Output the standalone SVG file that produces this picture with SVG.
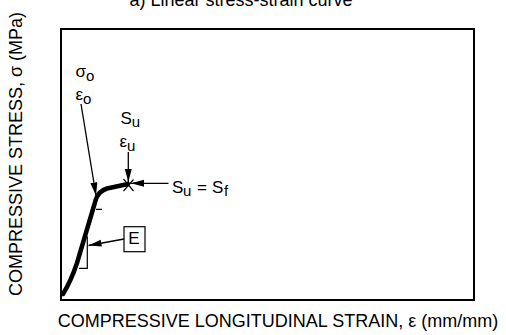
<svg xmlns="http://www.w3.org/2000/svg" width="506" height="335" viewBox="0 0 506 335">
<style>
text{font-family:"Liberation Sans",Arial,sans-serif;fill:#000}
.big{font-size:18px}
.lbl{font-size:17px}
.sub{font-size:15px}
.thin{stroke:#000;stroke-width:1.2;fill:none}
.arr{stroke:#000;stroke-width:1.3;fill:none;marker-end:url(#ah)}
</style>
<defs>
<marker id="ah" markerUnits="userSpaceOnUse" markerWidth="14" markerHeight="8" refX="13" refY="3.5" orient="auto">
<path d="M0,0 L13,3.5 L0,7 z" fill="#000"/>
</marker>
</defs>
<rect width="506" height="335" fill="#fff"/>
<g id="title"><text class="big" x="241" y="5.5" text-anchor="middle">a) Linear stress-strain curve</text></g>
<g id="frame"><rect x="61" y="29" width="413" height="271" fill="none" stroke="#000" stroke-width="2"/></g>
<g id="y-axis-label"><text class="big" transform="translate(21.5,154) rotate(-90)" text-anchor="middle">COMPRESSIVE STRESS, σ (MPa)</text></g>
<g id="x-axis-label"><text class="big" x="278" y="327" text-anchor="middle">COMPRESSIVE LONGITUDINAL STRAIN, ε (mm/mm)</text></g>
<g id="curve">
<path d="M63,294 Q71,281 77,263 L96,199 Q99,191 107,188.5 L128,184" fill="none" stroke="#000" stroke-width="4.5" stroke-linecap="round" stroke-linejoin="round"/>
<path class="thin" d="M123.5,179 L133.5,191 M133.5,179.5 L123.5,191" stroke-width="1.6"/>
<path class="thin" d="M96,209.3 H102 M79,268.3 H87.3 V236.5"/>
</g>
<g id="sigma0-label">
<text class="lbl" x="75.5" y="77">σ<tspan class="sub" dy="3.5">o</tspan></text>
<text class="lbl" x="75.5" y="100">ε<tspan class="sub" dy="3.5">o</tspan></text>
</g>
<g id="su-label">
<text class="lbl" x="120.5" y="124">S<tspan class="sub" dy="3">u</tspan></text>
<text class="lbl" x="119.5" y="147">ε<tspan class="sub" dy="4">u</tspan></text>
</g>
<g id="su-sf-label">
<text class="lbl" x="172" y="193">S<tspan class="sub" x="183" dy="3">u</tspan><tspan x="197" dy="-3">=</tspan><tspan x="212">S</tspan><tspan class="sub" x="224" dy="3">f</tspan></text>
</g>
<g id="e-box">
<rect x="124" y="226.7" width="21" height="25" fill="none" stroke="#000" stroke-width="1.2"/>
<text x="128.3" y="243.5" style="font-size:17px">E</text>
</g>
<g id="connectors">
<path class="arr" d="M81,104 L96,195.5"/>
<path class="arr" d="M128.3,152 L128.3,182"/>
<path class="arr" d="M168.5,183.3 L131,183.3"/>
<path class="arr" d="M124,239 L88.5,245.5"/>
</g>
</svg>
